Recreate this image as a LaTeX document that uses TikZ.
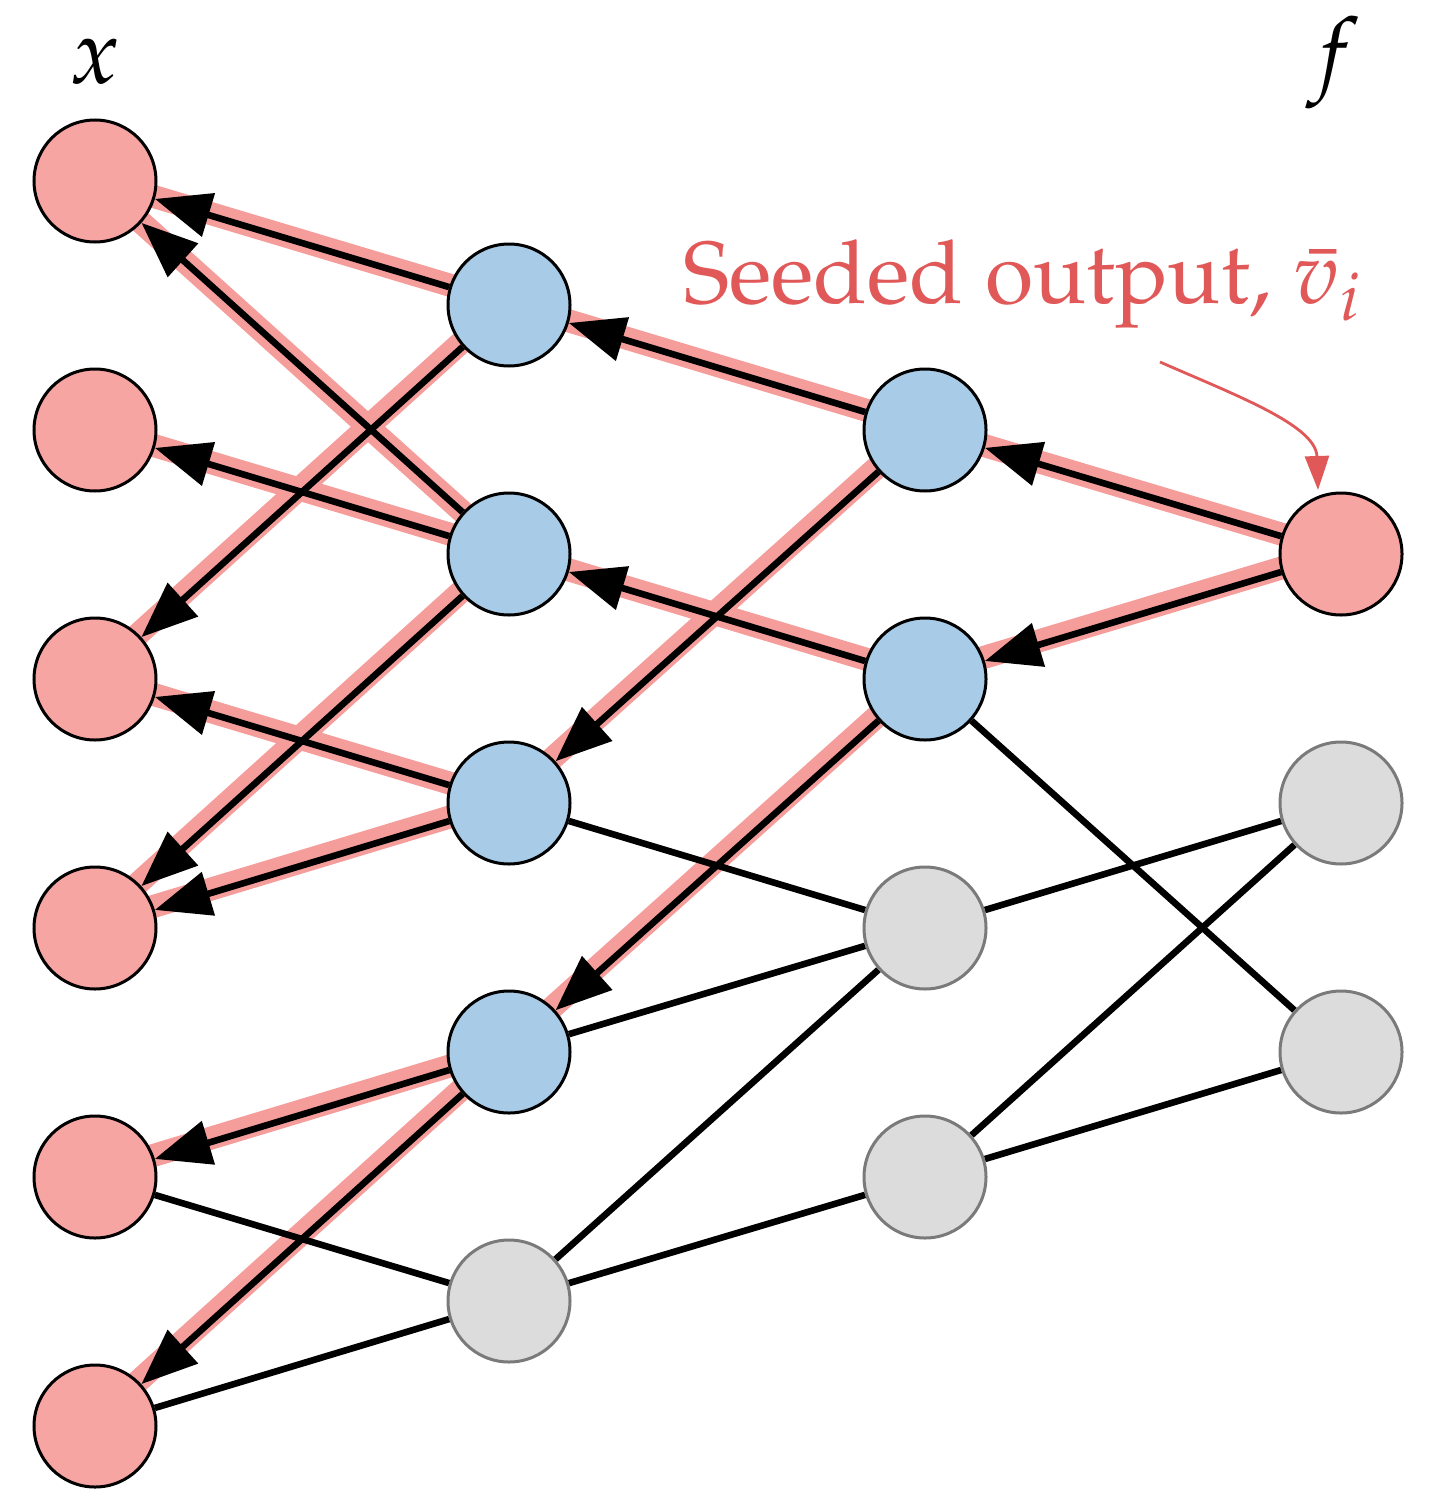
\documentclass[tikz,border=0pt]{standalone}
\usepackage{mathpazo}
\usetikzlibrary{arrows.meta}
\pgfdeclarelayer{bg}
\pgfsetlayers{bg,main}
\definecolor{nred}{HTML}{F7A5A3}
\definecolor{nblue}{HTML}{A8CBE8}
\definecolor{ngray}{HTML}{DCDCDC}
\definecolor{ngrayd}{HTML}{7A7A7A}
\definecolor{halo}{HTML}{F59D9B}
\definecolor{tred}{HTML}{E05858}
\newcommand{\palfont}{\fontencoding{OT1}\fontfamily{ppl}\selectfont}
\begin{document}
\begin{tikzpicture}[x=0.5pt,y=-0.5pt,
  nd/.style={circle,draw=black,line width=1.5pt,minimum size=61pt,inner sep=0pt},
  rn/.style={nd,fill=nred},
  bn/.style={nd,fill=nblue},
  gn/.style={nd,fill=ngray,draw=ngrayd},
  hl/.style={line width=11.5pt,draw=halo},
  ed/.style={line width=3.3pt,draw=black},
  ar/.style={ed,-{Triangle[length=28pt,width=22pt]}},
  annot/.style={line width=1.4pt,draw=tred,-{Triangle[length=17pt,width=12pt]}},
  lbl/.style={font=\fontsize{46}{54}\selectfont,anchor=base},
  seedlbl/.style={font=\fontsize{44}{52}\palfont,anchor=base west,text=tred}]
\useasboundingbox (0,0) rectangle (1434,1493);
% column 0
\node[rn] (x0) at (95,181) {};
\node[rn] (x1) at (95,430) {};
\node[rn] (x2) at (95,679) {};
\node[rn] (x3) at (95,928) {};
\node[rn] (x4) at (95,1177) {};
\node[rn] (x5) at (95,1426) {};
% column 1
\node[bn] (c10) at (509,305) {};
\node[bn] (c11) at (509,554) {};
\node[bn] (c12) at (509,803) {};
\node[bn] (c13) at (509,1052) {};
\node[gn] (g14) at (509,1301) {};
% column 2
\node[bn] (c20) at (925,430) {};
\node[bn] (c21) at (925,679) {};
\node[gn] (g22) at (925,928) {};
\node[gn] (g23) at (925,1177) {};
% column 3
\node[rn] (f) at (1341,554) {};
\node[gn] (g31) at (1341,803) {};
\node[gn] (g32) at (1341,1052) {};
% labels
\node[lbl] (lx) at (95,84) {$x$};
\node[lbl] (lf) at (1333,84) {$f$};
\node[seedlbl] (seed) at (676,303) {Seeded output, $\bar{v}_i$};
\coordinate (a0) at (1160,362);
\coordinate (a1) at (1318,490);
\draw[annot] (a0) .. controls (1235,395) and (1316,425) .. (a1);
\begin{pgfonlayer}{bg}
  \foreach \s/\t in {c10/x0,c11/x0,c11/x1,c10/x2,c12/x2,c11/x3,c12/x3,c13/x4,c13/x5,c20/c10,c20/c12,c21/c11,c21/c13,f/c20,f/c21}{
    \draw[hl] ([shift={(-3,-3)}]\s.center) -- ([shift={(-3,-3)}]\t.center);
  }
  \foreach \s/\t in {c12/g22,c13/g22,x4/g14,x5/g14,g14/g22,g14/g23,c21/g32,g22/g31,g23/g31,g23/g32}{
    \draw[ed] (\s) -- (\t);
  }
  \foreach \s/\t in {c10/x0,c11/x0,c11/x1,c10/x2,c12/x2,c11/x3,c12/x3,c13/x4,c13/x5,c20/c10,c20/c12,c21/c11,c21/c13,f/c20,f/c21}{
    \draw[ar] (\s) -- (\t);
  }
\end{pgfonlayer}
\end{tikzpicture}
\end{document}
